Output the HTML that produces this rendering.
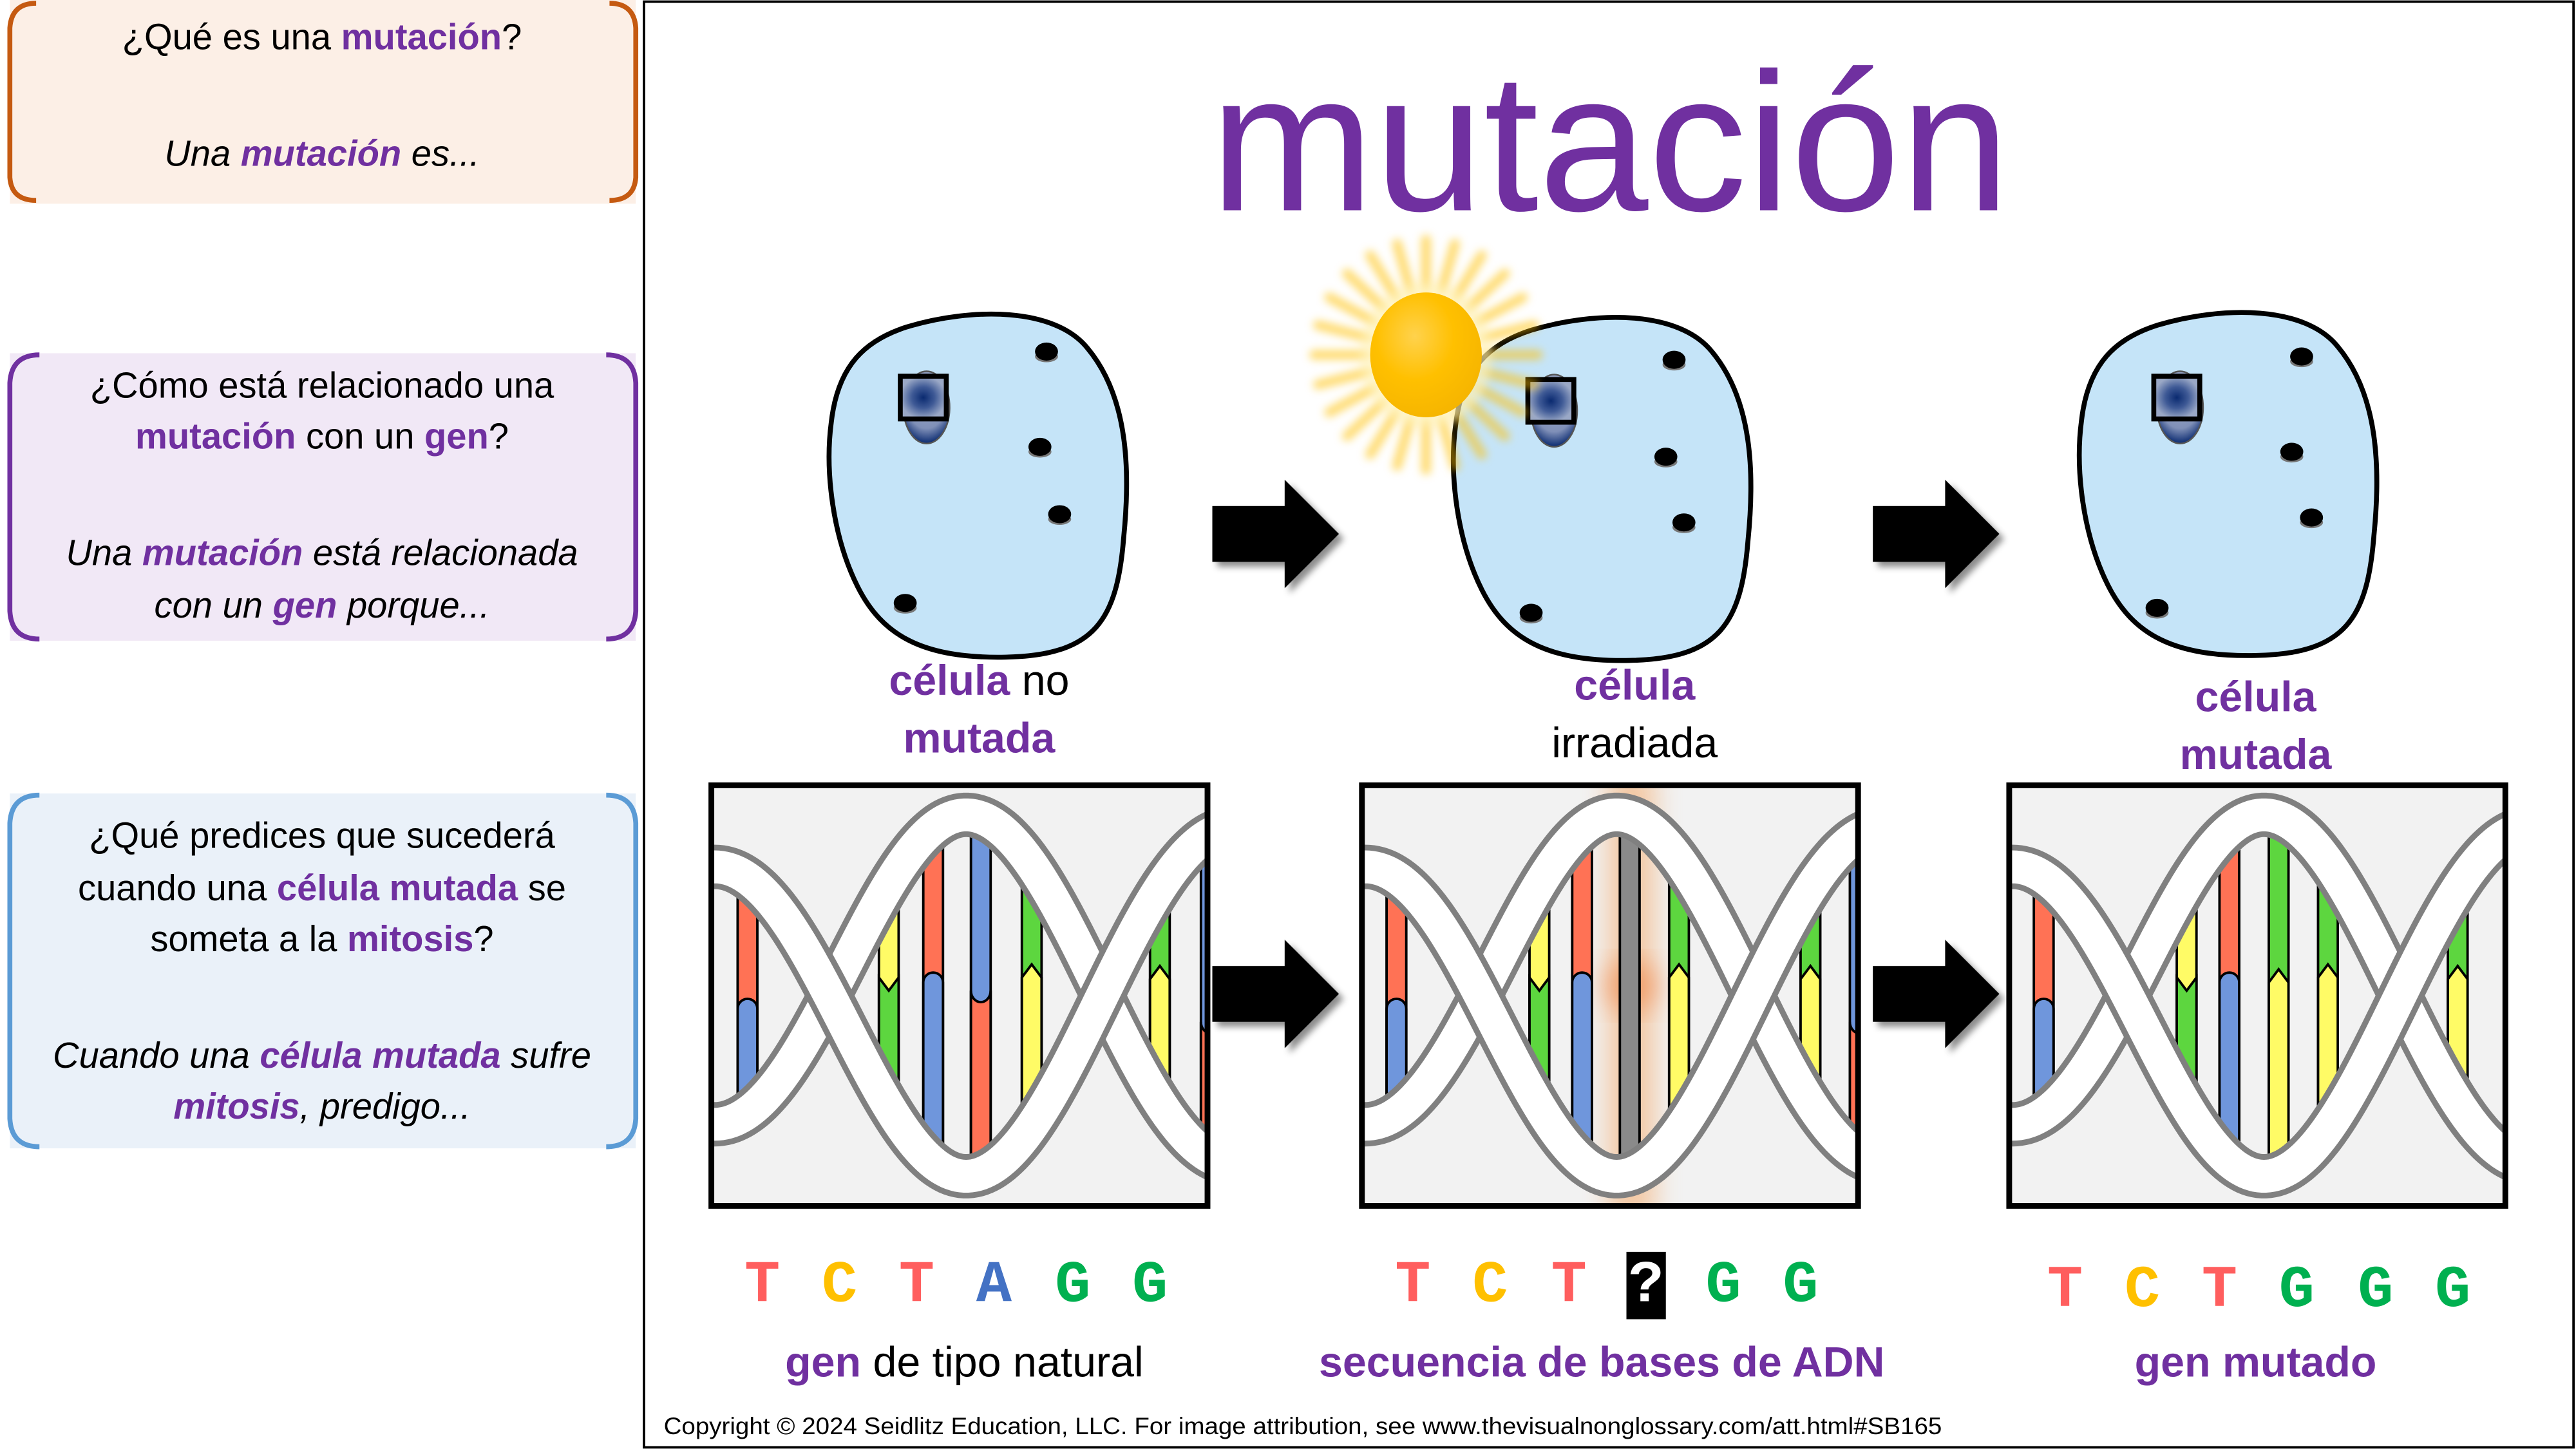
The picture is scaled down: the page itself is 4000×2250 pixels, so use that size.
<!DOCTYPE html>
<html><head><meta charset="utf-8">
<style>
html,body{margin:0;padding:0;background:#fff;}
svg{display:block;}
text{font-family:"Liberation Sans",sans-serif;}
.p{fill:#7030a0;font-weight:bold;}
text.m{font-family:"Liberation Mono",monospace;font-weight:bold;font-size:36px;}
</style></head>
<body>
<svg id="s" width="4000" height="2250" viewBox="0 0 1568 882" xmlns="http://www.w3.org/2000/svg">
<defs>
 <radialGradient id="sun" cx="0.4" cy="0.35" r="0.7">
  <stop offset="0" stop-color="#ffd24d"/><stop offset="0.5" stop-color="#ffc000"/><stop offset="1" stop-color="#f5b400"/>
 </radialGradient>
 <radialGradient id="nuc" cx="0.5" cy="0.5" r="0.5">
  <stop offset="0" stop-color="#0a2a70"/><stop offset="0.5" stop-color="#3f5a96"/><stop offset="1" stop-color="#9aa8c6"/>
 </radialGradient>
 <radialGradient id="nucg" cx="0.5" cy="0.3" r="0.7">
  <stop offset="0" stop-color="#a4b0c8"/><stop offset="0.7" stop-color="#8090b8"/><stop offset="1" stop-color="#0a2a70"/>
 </radialGradient>
 <filter id="blur" x="-50%" y="-50%" width="200%" height="200%"><feGaussianBlur stdDeviation="2.5"/></filter>
 <filter id="blur8" x="-100%" y="-20%" width="300%" height="140%"><feGaussianBlur stdDeviation="8"/></filter>
 <filter id="sh" x="-20%" y="-20%" width="150%" height="150%"><feDropShadow dx="3" dy="3" stdDeviation="2" flood-color="#000" flood-opacity="0.45"/></filter>
 <path id="cell" d="M50 12 C90 0,140 0,160 25 C185 55,186 100,182 140 C178 190,165 212,110 213 C60 214,35 200,20 170 C5 140,0 100,4 70 C8 35,25 20,50 12 Z"/>
 <g id="arrow"><path d="M0 16 H44 V0 L77 33 L44 66 V50 H0 Z" fill="#000"/></g>
 <g id="dot"><ellipse cx="0" cy="3" rx="7" ry="3.5" fill="#777"/><ellipse cx="0" cy="0" rx="7" ry="5.5" fill="#000"/></g>
 <g id="nucl"><ellipse cx="1" cy="5" rx="14" ry="22" fill="url(#nucg)" stroke="#555" stroke-width="1"/><rect x="-15" y="-14" width="28" height="26" fill="url(#nuc)" stroke="#000" stroke-width="3"/></g>
</defs>

<rect x="0" y="0" width="1568" height="882" fill="#fff"/>
<rect x="392" y="1" width="1174.5" height="880" fill="none" stroke="#000" stroke-width="1.5"/>

<rect x="6" y="0" width="381" height="124" fill="#fcefe6"/>
<path d="M22 2 Q7 2 6 17 V108 Q7 122 22 122" fill="none" stroke="#c55a11" stroke-width="3"/>
<path d="M371 2 Q386 2 387 17 V108 Q386 122 371 122" fill="none" stroke="#c55a11" stroke-width="3"/>
<text x="196" y="30" text-anchor="middle" font-size="22">¿Qué es una <tspan class="p">mutación</tspan>?</text>
<text x="196" y="101" text-anchor="middle" font-size="22" font-style="italic">Una <tspan class="p">mutación</tspan> es...</text>

<rect x="6" y="215" width="381" height="175" fill="#f1e8f6"/>
<path d="M24 216 Q7 216 6 233 V372 Q7 389 24 389" fill="none" stroke="#7030a0" stroke-width="3"/>
<path d="M369 216 Q386 216 387 233 V372 Q386 389 369 389" fill="none" stroke="#7030a0" stroke-width="3"/>
<text x="196" y="242" text-anchor="middle" font-size="22">¿Cómo está relacionado una</text>
<text x="196" y="273" text-anchor="middle" font-size="22"><tspan class="p">mutación</tspan> con un <tspan class="p">gen</tspan>?</text>
<text x="196" y="344" text-anchor="middle" font-size="22" font-style="italic">Una <tspan class="p">mutación</tspan> está relacionada</text>
<text x="196" y="376" text-anchor="middle" font-size="22" font-style="italic">con un <tspan class="p">gen</tspan> porque...</text>

<rect x="6" y="483" width="381" height="216" fill="#eaf1f9"/>
<path d="M24 484 Q7 484 6 501 V681 Q7 698 24 698" fill="none" stroke="#5b9bd5" stroke-width="3"/>
<path d="M369 484 Q386 484 387 501 V681 Q386 698 369 698" fill="none" stroke="#5b9bd5" stroke-width="3"/>
<text x="196" y="516" text-anchor="middle" font-size="22">¿Qué predices que sucederá</text>
<text x="196" y="548" text-anchor="middle" font-size="22">cuando una <tspan class="p">célula mutada</tspan> se</text>
<text x="196" y="579" text-anchor="middle" font-size="22">someta a la <tspan class="p">mitosis</tspan>?</text>
<text x="196" y="650" text-anchor="middle" font-size="22" font-style="italic">Cuando una <tspan class="p">célula mutada</tspan> sufre</text>
<text x="196" y="681" text-anchor="middle" font-size="22" font-style="italic"><tspan class="p">mitosis</tspan>, predigo...</text>

<text x="980" y="128" text-anchor="middle" font-size="120" fill="#7030a0">mutación</text>

<g transform="translate(502,187)"><use href="#cell" fill="#c5e4f8" stroke="#000" stroke-width="3"/></g>
<use href="#nucl" x="563" y="243"/>
<use href="#dot" x="637" y="214"/><use href="#dot" x="633" y="272"/><use href="#dot" x="645" y="313"/><use href="#dot" x="551" y="367"/>

<g transform="translate(882,189)"><use href="#cell" fill="#c5e4f8" stroke="#000" stroke-width="3"/></g>
<use href="#nucl" x="945" y="245"/>
<use href="#dot" x="1019" y="219"/><use href="#dot" x="1014" y="278"/><use href="#dot" x="1025" y="318"/><use href="#dot" x="932" y="373"/>

<g transform="translate(1263,186)"><use href="#cell" fill="#c5e4f8" stroke="#000" stroke-width="3"/></g>
<use href="#nucl" x="1326" y="243"/>
<use href="#dot" x="1401" y="217"/><use href="#dot" x="1395" y="275"/><use href="#dot" x="1407" y="315"/><use href="#dot" x="1313" y="370"/>

<g id="sunrays" filter="url(#blur)"></g>
<ellipse cx="868" cy="216" rx="40" ry="44" fill="#fff4c0" opacity="0.6" filter="url(#blur)"/>
<ellipse cx="868" cy="216" rx="34" ry="38" fill="url(#sun)"/>

<g filter="url(#sh)">
<use href="#arrow" x="738" y="292"/><use href="#arrow" x="1140" y="292"/>
<use href="#arrow" x="738" y="572"/><use href="#arrow" x="1140" y="572"/>
</g>

<text x="596" y="423" text-anchor="middle" font-size="26"><tspan class="p">célula</tspan> no</text>
<text x="596" y="458" text-anchor="middle" font-size="26" class="p">mutada</text>
<text x="995" y="426" text-anchor="middle" font-size="26" class="p">célula</text>
<text x="995" y="461" text-anchor="middle" font-size="26">irradiada</text>
<text x="1373" y="433" text-anchor="middle" font-size="26" class="p">célula</text>
<text x="1373" y="468" text-anchor="middle" font-size="26" class="p">mutada</text>

<g id="dna1"></g><g id="dna2"></g><g id="dna3"></g>

<g text-anchor="middle">
<text class="m" x="464" y="792" fill="#ff5e5e">T</text><text class="m" x="511" y="792" fill="#ffc000">C</text><text class="m" x="558" y="792" fill="#ff5e5e">T</text><text class="m" x="605" y="792" fill="#4472c4">A</text><text class="m" x="653" y="792" fill="#00b050">G</text><text class="m" x="700" y="792" fill="#00b050">G</text>
<text class="m" x="860" y="792" fill="#ff5e5e">T</text><text class="m" x="907" y="792" fill="#ffc000">C</text><text class="m" x="955" y="792" fill="#ff5e5e">T</text>
<rect x="990" y="762" width="24" height="41" fill="#000"/><text class="m" x="1002" y="792" fill="#fff">?</text>
<text class="m" x="1049" y="792" fill="#00b050">G</text><text class="m" x="1096" y="792" fill="#00b050">G</text>
<text class="m" x="1257" y="795" fill="#ff5e5e">T</text><text class="m" x="1304" y="795" fill="#ffc000">C</text><text class="m" x="1351" y="795" fill="#ff5e5e">T</text><text class="m" x="1398" y="795" fill="#00b050">G</text><text class="m" x="1446" y="795" fill="#00b050">G</text><text class="m" x="1493" y="795" fill="#00b050">G</text>
</g>

<text x="587" y="838" text-anchor="middle" font-size="26"><tspan class="p">gen</tspan> de tipo natural</text>
<text x="975" y="838" text-anchor="middle" font-size="26" class="p">secuencia de bases de ADN</text>
<text x="1373" y="838" text-anchor="middle" font-size="26" class="p">gen mutado</text>

<text x="404" y="873" font-size="14.5" textLength="778" lengthAdjust="spacingAndGlyphs">Copyright © 2024 Seidlitz Education, LLC.  For image attribution, see www.thevisualnonglossary.com/att.html#SB165</text>
</svg>
<script>
(function(){
var NS="http://www.w3.org/2000/svg";
function el(t,a,p){var e=document.createElementNS(NS,t);for(var k in a)e.setAttribute(k,a[k]);if(p)p.appendChild(e);return e;}
var r=document.getElementById('sunrays');
for(var i=0;i<24;i++){var a=i*Math.PI/12;var cx=868,cy=216;
 el('line',{x1:cx+Math.cos(a)*36,y1:cy+Math.sin(a)*40,x2:cx+Math.cos(a)*68,y2:cy+Math.sin(a)*70,stroke:'#ffc000','stroke-width':6,'stroke-opacity':0.55,'stroke-linecap':'round'},r);}
var C={r:'#ff7255',b:'#6f96dc',y:'#fffb66',g:'#5dd63f',k:'#8a8a8a'};
var W=302,H=256;
function amp(x){return x<155?110-30*Math.pow((155-x)/155,2):110-6*Math.pow((x-155)/147,2);}
function yA(x){return 128-amp(x)*Math.cos((x-155)*Math.PI/166);}
function yB(x){return 128+amp(x)*Math.cos((x-155)*Math.PI/166);}
function build(id,X,Y,bars,glow){
 var g=document.getElementById(id);
 var cid=id+'c';var cp=el('clipPath',{id:cid},g);el('rect',{x:X,y:Y,width:W,height:H},cp);
 el('rect',{x:X,y:Y,width:W,height:H,fill:'#f2f2f2'},g);
 var inner=el('g',{'clip-path':'url(#'+cid+')'},g);
 if(glow){el('rect',{x:X+150,y:Y-10,width:28,height:H+20,fill:'#f4a460',opacity:0.55,filter:'url(#blur8)'},inner);
   el('ellipse',{cx:X+164,cy:Y+122,rx:16,ry:16,fill:'#f08040',opacity:0.6,filter:'url(#blur8)'},inner);}
 var bid=id+'b';var bc=el('clipPath',{id:bid},g);
 var pts=[];for(var x=-5;x<=W+5;x+=2)pts.push((X+x)+','+(Y+Math.min(yA(x),yB(x))));
 for(var x=W+5;x>=-5;x-=2)pts.push((X+x)+','+(Y+Math.max(yA(x),yB(x))));
 el('polygon',{points:pts.join(' ')},bc);
 var bg=el('g',{'clip-path':'url(#'+bid+')'},inner);
 bars.forEach(function(b){
  var x=X+b[0],w=12,j=Y+b[3],T=Y-5,B=Y+H+5,top=C[b[1]],bot=C[b[2]],t=b[4];
  el('rect',{x:x,y:T,width:w,height:B-T,fill:top,stroke:'#000','stroke-width':1.5},bg);
  if(!bot)return;
  var d;
  if(t=='du')d='M'+x+','+B+' L'+x+','+j+' A6,6 0 0 1 '+(x+w)+','+j+' L'+(x+w)+','+B+'Z';
  else if(t=='dd')d='M'+x+','+B+' L'+x+','+(j-6)+' A6,7 0 0 0 '+(x+w)+','+(j-6)+' L'+(x+w)+','+B+'Z';
  else if(t=='vu')d='M'+x+','+B+' L'+x+','+j+' L'+(x+w/2)+','+(j-8)+' L'+(x+w)+','+j+' L'+(x+w)+','+B+'Z';
  else d='M'+x+','+B+' L'+x+','+(j-8)+' L'+(x+w/2)+','+j+' L'+(x+w)+','+(j-8)+' L'+(x+w)+','+B+'Z';
  el('path',{d:d,fill:bot,stroke:'#000','stroke-width':1.5},bg);
 });
 function path(f){var d='';for(var x=-10;x<=W+10;x+=2)d+=(x==-10?'M':'L')+(X+x)+','+(Y+f(x));return d;}
 [yA,yB].forEach(function(f){
  el('path',{d:path(f),fill:'none',stroke:'#808080','stroke-width':27},inner);
  el('path',{d:path(f),fill:'none',stroke:'#fff','stroke-width':20},inner);
 });
 el('rect',{x:X,y:Y,width:W,height:H,fill:'none',stroke:'#000','stroke-width':3.5},g);
}
build('dna1',433,478,[[16,'r','b',136,'du'],[102,'y','g',125,'vd'],[129,'r','b',120,'du'],[158,'b','r',131,'dd'],[189,'g','y',117,'vu'],[267,'g','y',118,'vu'],[298,'b','r',150,'dd']]);
build('dna2',829,478,[[15,'r','b',136,'du'],[102,'y','g',125,'vd'],[128,'r','b',120,'du'],[157,'k',null,0,''],[187,'g','y',117,'vu'],[267,'g','y',118,'vu'],[297,'b','r',150,'dd']],true);
build('dna3',1223,478,[[15,'r','b',136,'du'],[102,'y','g',125,'vd'],[128,'r','b',120,'du'],[158,'g','y',120,'vu'],[188,'g','y',117,'vu'],[267,'g','y',118,'vu']]);
})();
</script>
</body></html>
